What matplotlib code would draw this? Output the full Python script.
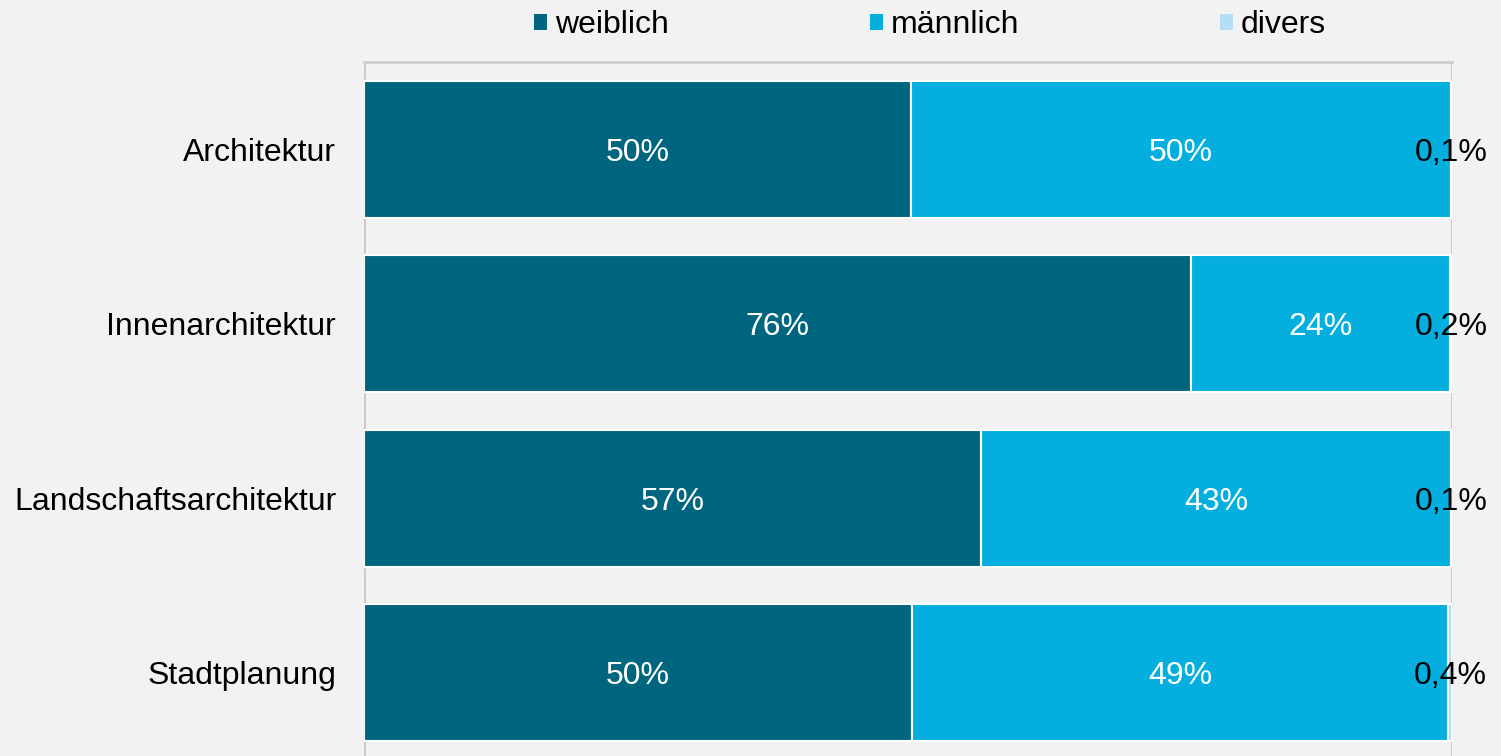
import matplotlib
matplotlib.use("Agg")
import matplotlib.pyplot as plt
import numpy as np

categories = ["Architektur", "Innenarchitektur", "Landschaftsarchitektur", "Stadtplanung"]
weiblich = [50.3, 76.0, 56.7, 50.4]
maennlich = [49.6, 23.8, 43.2, 49.2]
divers = [0.1, 0.2, 0.1, 0.4]
series_names = ["weiblich", "männlich", "divers"]
colors = ["#006680", "#04AFDF", "#B4DDF6"]

plt.rcParams['font.family'] = ['Liberation Sans', 'DejaVu Sans']
bg = "#F2F2F2"
fig = plt.figure(figsize=(15.01, 7.56), dpi=100, facecolor=bg)
ax = fig.add_axes([364/1501, 1 - 760/756, (1452-364)/1501, (760-62)/756])
ax.set_facecolor(bg)

y = np.arange(len(categories))
left = np.zeros(len(categories))
data = [weiblich, maennlich, divers]
bars_all = []
for name, vals, c in zip(series_names, data, colors):
    ax.barh(y, vals, left=left, height=0.785, color=c, edgecolor="white",
            linewidth=1.5, label=name, zorder=3)
    bars_all.append((name, vals, left.copy()))
    left = left + np.array(vals)

for name, vals, lefts in bars_all:
    for i, (v, l) in enumerate(zip(vals, lefts)):
        cx = l + v / 2
        if name == "divers":
            txt = f"{v:.1f}%".replace(".", ",")
            ax.text(cx, i, txt, ha="center", va="center_baseline", fontsize=23, color="black", zorder=5)
        else:
            ax.text(cx, i, f"{v:.0f}%", ha="center", va="center_baseline", fontsize=23, color="white", zorder=5)

ax.set_xlim(0, 100)
ax.set_ylim(3.5, -0.5)
ax.set_yticks(y)
ax.set_yticklabels(categories, fontsize=23)
ax.tick_params(axis="y", length=0, pad=20)
ax.set_xticks([0, 100])
ax.tick_params(axis="x", length=0, labelbottom=False)
ax.xaxis.grid(True, color="#C8C8C8", linewidth=2, zorder=1)
ax.set_axisbelow(True)
for s in ["left", "right", "bottom"]:
    ax.spines[s].set_visible(False)
ax.spines["top"].set_color("#CCCCCC")
ax.spines["top"].set_linewidth(2)
ax.spines["top"].set_zorder(1)

leg = fig.legend(loc="center", bbox_to_anchor=(930/1501, 1 - 25/756), ncol=3,
                 frameon=False, fontsize=23, handlelength=0.4, handleheight=0.4,
                 handletextpad=0.25, columnspacing=6.3, borderaxespad=0)
for h in leg.legend_handles:
    h.set_edgecolor("none")

fig.savefig("out.png", dpi=100, facecolor=bg)
